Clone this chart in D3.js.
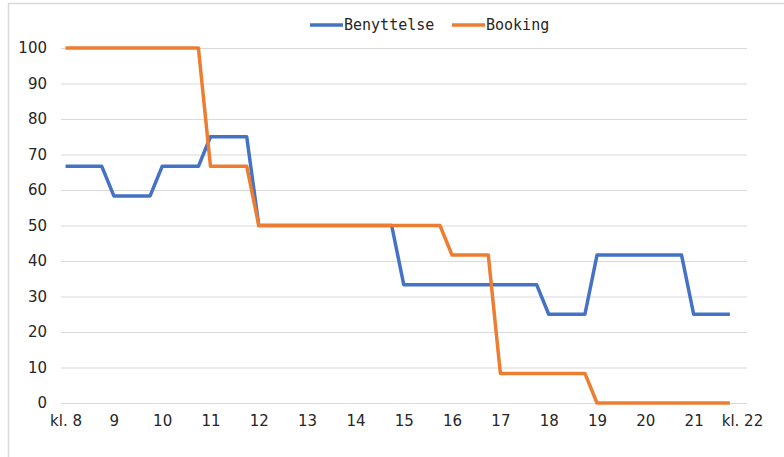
<!DOCTYPE html>
<meta charset="utf-8">
<script src="https://d3js.org/d3.v7.min.js"></script>
<style>
body { margin: 0; background: #fff; }
.tick text { font-family: "DejaVu Sans", sans-serif; font-size: 15px; fill: #262626; }
.legend text { font-family: "DejaVu Sans Mono", monospace; font-size: 15px; fill: #262626; }
</style>
<body>
</body>
<script>

// hours shown on the x axis (data is every 15 minutes)
var hours = [8, 9, 10, 11, 12, 13, 14, 15, 16, 17, 18, 19, 20, 21, 22];
var hourLabels = ["kl. 8", "9", "10", "11", "12", "13", "14", "15", "16", "17", "18", "19", "20", "21", "kl. 22"];
var quarters = ["00", "15", "30", "45"];

var yTicks = [0, 10, 20, 30, 40, 50, 60, 70, 80, 90, 100];

// Benyttelse, one value per quarter hour from 8:00 to 21:45
var benyttelse = [
  66.67, 66.67, 66.67, 66.67,
  58.33, 58.33, 58.33, 58.33,
  66.67, 66.67, 66.67, 66.67,
  75, 75, 75, 75,
  50, 50, 50, 50, 50, 50, 50, 50, 50, 50, 50, 50,
  33.33, 33.33, 33.33, 33.33, 33.33, 33.33, 33.33, 33.33, 33.33, 33.33, 33.33, 33.33,
  25, 25, 25, 25,
  41.67, 41.67, 41.67, 41.67, 41.67, 41.67, 41.67, 41.67,
  25, 25, 25, 25
];

// Booking
var booking = [
  100, 100, 100, 100, 100, 100, 100, 100, 100, 100, 100, 100,
  66.67, 66.67, 66.67, 66.67,
  50, 50, 50, 50, 50, 50, 50, 50, 50, 50, 50, 50, 50, 50, 50, 50,
  41.67, 41.67, 41.67, 41.67,
  8.33, 8.33, 8.33, 8.33, 8.33, 8.33, 8.33, 8.33,
  0, 0, 0, 0, 0, 0, 0, 0, 0, 0, 0, 0
];

var seriesNames = ["Benyttelse", "Booking"];
var colors = ["#4472C4", "#ED7D31"];

// quarter-hour slots, 8:00 .. 22:00
var slots = [];
hours.forEach(function(h) {
  if (h < 22) quarters.forEach(function(q) { slots.push(h + ":" + q); });
  else slots.push(h + ":00");
});
var hourSlots = hours.map(function(h) { return h + ":00"; });

var W = 784, H = 457;

var svg = d3.select("body").append("svg")
  .attr("width", W)
  .attr("height", H);

// outer chart frame (cut off at right and bottom)
svg.append("path")
  .attr("d", "M8.5," + (H + 5) + "V3.5H" + (W + 5))
  .attr("fill", "none")
  .attr("stroke", "#d9d9d9")
  .attr("stroke-width", 1.5);

var plotLeft = 61, plotRight = 747;

var xScale = d3.scalePoint()
  .domain(slots)
  .range([59.5, 748])
  .padding(0.5);

var yScale = d3.scaleLinear()
  .domain([0, 100])
  .range([403, 48]);

// gridlines + y labels
var yAxis = d3.axisLeft(yScale)
  .tickValues(yTicks)
  .tickSize(-(plotRight - plotLeft))
  .tickPadding(14);

var yAxisGroup = svg.append("g")
  .attr("transform", "translate(" + plotLeft + ",0)")
  .call(yAxis);
yAxisGroup.select(".domain").remove();
yAxisGroup.selectAll(".tick line").attr("stroke", "#d9d9d9").attr("stroke-width", 1.2);

// x labels
var xAxis = d3.axisBottom(xScale)
  .tickValues(hourSlots)
  .tickFormat(function(d, i) { return hourLabels[i]; })
  .tickSize(0)
  .tickPadding(12);

var xAxisGroup = svg.append("g")
  .attr("transform", "translate(0,403)")
  .call(xAxis);
xAxisGroup.select(".domain").remove();

var line = d3.line()
  .x(function(d, i) { return xScale(slots[i]); })
  .y(function(d) { return yScale(d); });

[benyttelse, booking].forEach(function(values, k) {
  svg.append("path")
    .datum(values)
    .attr("fill", "none")
    .attr("stroke", colors[k])
    .attr("stroke-width", 3.5)
    .attr("stroke-linejoin", "round")
    .attr("d", line);
});

// legend
var legend = svg.append("g").attr("class", "legend");
var legendX = [310, 452];
seriesNames.forEach(function(name, k) {
  legend.append("line")
    .attr("x1", legendX[k]).attr("x2", legendX[k] + 33)
    .attr("y1", 25).attr("y2", 25)
    .attr("stroke", colors[k])
    .attr("stroke-width", 3.5);
  legend.append("text")
    .attr("x", legendX[k] + 34)
    .attr("y", 25)
    .attr("dy", "0.35em")
    .text(name);
});

</script>
